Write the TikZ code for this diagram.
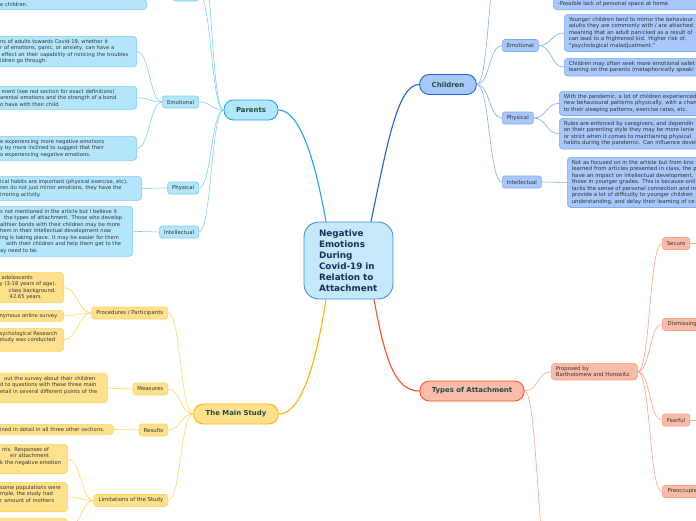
\documentclass[tikz,border=0pt]{standalone}
\usepackage{fontspec}
\setmainfont{DejaVu Sans}

\definecolor{rootfill}{HTML}{C4E9FB}
\definecolor{rootline}{HTML}{3D8FD8}
\definecolor{roottext}{HTML}{1A2D5A}
\definecolor{maintext}{HTML}{1F4A3D}
\definecolor{leaftext}{HTML}{333333}
\definecolor{parline}{HTML}{1AA7EC}
\definecolor{parfill}{HTML}{B3E5FC}
\definecolor{parsubline}{HTML}{7FCDF5}
\definecolor{chiline}{HTML}{1E62D0}
\definecolor{chifill}{HTML}{A8C7FA}
\definecolor{chisubline}{HTML}{7EAAF2}
\definecolor{stuline}{HTML}{FFB300}
\definecolor{stufill}{HTML}{FFE08C}
\definecolor{stusubline}{HTML}{FFD45C}
\definecolor{typline}{HTML}{F4511E}
\definecolor{typfill}{HTML}{F9BCA8}
\definecolor{typsubline}{HTML}{F8A386}

\tikzset{
  mm_node/.style = {line width=0.6pt, text=leaftext, inner xsep=4.5pt,
    inner ysep=3pt, font=\fontsize{5.4}{6.5}\selectfont},
  mm_sub/.style = {mm_node, rounded corners=2.5pt, minimum height=12pt},
  mm_leaf/.style = {mm_node, rounded corners=3.5pt, align=left, text width=#1},
  mm_leaf/.default = 150pt,
  mm_small/.style = {font=\fontsize{5.2}{6.5}\selectfont},
  mm_main/.style = {rounded corners=9.5pt, line width=0.9pt, text=maintext,
    minimum height=20pt, inner xsep=12pt, font=\bfseries\fontsize{6.9}{8}\selectfont},
  mm_root/.style = {draw=rootline, fill=rootfill, line width=0.9pt,
    rounded corners=15pt, text=roottext, align=left, text width=59pt,
    minimum width=89pt, minimum height=77pt, inner sep=0pt,
    font=\bfseries\fontsize{8.8}{11}\selectfont},
  par_n/.style = {fill=parfill, draw=parsubline},
  chi_n/.style = {fill=chifill, draw=chisubline},
  stu_n/.style = {fill=stufill, draw=stusubline},
  typ_n/.style = {fill=typfill, draw=typsubline},
  to_left/.style = {to path={.. controls +(-#1,0) and +(#1,0) .. (\tikztotarget) \tikztonodes}},
  to_right/.style = {to path={.. controls +(#1,0) and +(-#1,0) .. (\tikztotarget) \tikztonodes}}
}

\begin{document}
\begin{tikzpicture}[x=1pt, y=-1pt]
\useasboundingbox (0,0) rectangle (696,520);
\clip (0,0) rectangle (696,520);

% centre and main topics
\node [mm_root] (root) at (348.5,260.5) {Negative\\Emotions\\During\\Covid-19 in\\Relation to\\Attachment};
\node [mm_main, fill=parfill, draw=parline] (parents) at (251,110) {Parents};
\node [mm_main, fill=chifill, draw=chiline] (children) at (448,84.5) {Children};
\node [mm_main, fill=stufill, draw=stuline] (study) at (236,414) {The Main Study};
\node [mm_main, fill=typfill, draw=typline] (types) at (472,391) {Types of Attachment};

\draw [parline, line width=1.1pt] ([xshift=-22.5pt]root.north) .. controls (315,160) and (300,110) .. (parents.east);
\draw [chiline, line width=1.1pt] ([xshift=22.5pt]root.north) .. controls (388,140) and (398,84.5) .. (children.west);
\draw [stuline, line width=1.1pt] ([xshift=-22.5pt]root.south) .. controls (315,370) and (300,414) .. (study.east);
\draw [typline, line width=1.1pt] ([xshift=25.5pt]root.south) .. controls (385,360) and (395,391) .. (types.west);

% Parents
\node [mm_sub, par_n, anchor=east, minimum width=26pt] (p_top) at (199,-5) {};
\coordinate (p_far) at (199,-60);
\node [mm_sub, par_n, anchor=east] (p_emo) at (199,102) {Emotional};
\node [mm_sub, par_n, anchor=east] (p_phy) at (199,188) {Physical};
\node [mm_sub, par_n, anchor=east] (p_int) at (199,232) {Intellectual};

\node [mm_leaf=142pt, mm_small, par_n, anchor=south east] (pt_1) at (147,10) {e children.};
\node [mm_leaf=132pt, mm_small, par_n, anchor=north east] (pe_1) at (137,36)
  {ns of adults towards Covid-19, whether it\\r of emotions, panic, or anxiety, can have a\\\hspace*{1.5pt}effect on their capability of noticing the troubles\\ildren go through.};
\node [mm_leaf=132pt, mm_small, par_n, anchor=north east] (pe_2) at (137,86)
  {\hspace*{1.5pt}ment (see red section for exact definitions)\\arental emotions and the strength of a bond\\o have with their child};
\node [mm_leaf=132pt, mm_small, par_n, anchor=north east] (pe_3) at (137,136)
  {e experiencing more negative emotions\\y by more inclined to suggest that their\\o experiencing negative emotions.};
\node [mm_leaf=137pt, mm_small, par_n, anchor=north east] (pp_1) at (142,176)
  {ical habits are important (physical exercise, etc),\\ren do not just mirror emotions, they have the\\irroring activity.};
\node [mm_leaf=128pt, mm_small, par_n, anchor=north east] (pi_1) at (133,206)
  {s not mentioned in the article but I believe it\\\hspace*{4pt}the types of attachment. Those who develop\\althier bonds with their children may be more\\hem in their intellectual development now\\ing is taking place. It may be easier for them\\\hspace*{6pt}with their children and help them get to the\\ay need to be.};

\draw [parsubline, line width=0.6pt] (parents.west) to[to_left=12.5] (p_top.east);
\draw [parsubline, line width=0.6pt] (parents.west) to[to_left=12.5] (p_far);
\draw [parsubline, line width=0.6pt] (parents.west) to[to_left=12.5] (p_emo.east);
\draw [parsubline, line width=0.6pt] (parents.west) to[to_left=12.5] (p_phy.east);
\draw [parsubline, line width=0.6pt] (parents.west) to[to_left=12.5] (p_int.east);
\draw [parsubline, line width=0.6pt] (p_emo.west) to[to_left=12.5] (pe_1.east);
\draw [parsubline, line width=0.6pt] (p_emo.west) to[to_left=12.5] (pe_2.east);
\draw [parsubline, line width=0.6pt] (p_emo.west) to[to_left=12.5] (pe_3.east);
\draw [parsubline, line width=0.6pt] (p_phy.west) to[to_left=12.5] (pp_1.east);
\draw [parsubline, line width=0.6pt] (p_int.west) to[to_left=12.5] (pi_1.east);

% Children
\coordinate (c_far) at (502,-60);
\node [mm_sub, chi_n, anchor=west] (c_emo) at (502,45.5) {Emotional};
\node [mm_sub, chi_n, anchor=west] (c_phy) at (502,118) {Physical};
\node [mm_sub, chi_n, anchor=west] (c_int) at (502,182) {Intellectual};

\node [mm_leaf, chi_n, anchor=south west] (ct_1) at (553,10) {-Possible lack of personal space at home};
\node [mm_leaf, chi_n, anchor=north west] (ce_1) at (564,14)
  {Younger children tend to mirror the behaviour\\adults they are commonly with / are attached\\meaning that an adult panicked as a result of\\can lead to a frightened kid. Higher risk of,\\"psychological maladjustment."};
\node [mm_leaf, chi_n, anchor=north west] (ce_2) at (564,58)
  {Children may often seek more emotional safet\\leaning on the parents (metaphorically speaki};
\node [mm_leaf, chi_n, anchor=north west] (cp_1) at (559,91)
  {With the pandemic, a lot of children experienced\\new behavioural patterns physically, with a chan\\to their sleeping patterns, exercise rates, etc.};
\node [mm_leaf, chi_n, anchor=north west] (cp_2) at (559,118)
  {Rules are enforced by caregivers, and dependin\\on their parenting style they may be more lenie\\or strict when it comes to maintaining physical\\habits during the pandemic. Can influence devel};
\node [mm_leaf, chi_n, anchor=north west] (ci_1) at (567,157)
  {Not as focused on in the article but from kno\\learned from articles presented in class, the p\\have an impact on intellectual development,\\those in younger grades. This is because onli\\lacks the sense of personal connection and in\\provide a lot of difficulty to younger children\\understanding, and delay their learning of ce};

\draw [chisubline, line width=0.6pt] (children.east) to[to_right=13] (c_far);
\draw [chisubline, line width=0.6pt] (children.east) to[to_right=13] (c_emo.west);
\draw [chisubline, line width=0.6pt] (children.east) to[to_right=13] (c_phy.west);
\draw [chisubline, line width=0.6pt] (children.east) to[to_right=13] (c_int.west);
\draw [chisubline, line width=0.6pt] (c_emo.east) to[to_right=13] (ce_1.west);
\draw [chisubline, line width=0.6pt] (c_emo.east) to[to_right=13] (ce_2.west);
\draw [chisubline, line width=0.6pt] (c_phy.east) to[to_right=13] (cp_1.west);
\draw [chisubline, line width=0.6pt] (c_phy.east) to[to_right=13] (cp_2.west);
\draw [chisubline, line width=0.6pt] (c_int.east) to[to_right=12.5] (ci_1.west);

% The Main Study
\node [mm_sub, stu_n, anchor=east] (s_pro) at (168,313) {Procedures / Participants};
\node [mm_sub, stu_n, anchor=east] (s_mea) at (168,389) {Measures};
\node [mm_sub, stu_n, anchor=east] (s_res) at (168,430) {Results};
\node [mm_sub, stu_n, anchor=east] (s_lim) at (168,500.5) {Limitations of the Study};

\node [mm_leaf=59.5pt, mm_small, stu_n, anchor=north east] (sp_1) at (64,272)
  {\hspace*{2pt}adolescents\\y (3-18 years of age).\\\hspace*{9pt}class background.\\\hspace*{10pt}42.65 years.};
\node [mm_leaf=59.5pt, mm_small, stu_n, anchor=north east] (sp_2) at (64,310) {nymous online survey.};
\node [mm_leaf=59.5pt, mm_small, stu_n, anchor=north east] (sp_3) at (64,328)
  {sychological Research\\study was conducted\\~};
\node [mm_leaf=103pt, mm_small, stu_n, anchor=north east] (sm_1) at (108,373)
  {\hspace*{4pt}out the survey about their children\\d to questions with these three main\\etail in several different points of the\\~};
\node [mm_leaf=109pt, mm_small, stu_n, anchor=north east] (sr_1) at (114,424)
  {ined in detail in all three other sections.};
\node [mm_leaf=63pt, mm_small, stu_n, anchor=north east] (sl_1) at (68,444)
  {\hspace*{2pt}nts. Responses of\\\hspace*{10pt}eir attachment\\k the negative emotion\\~};
\node [mm_leaf=63pt, mm_small, stu_n, anchor=north east] (sl_2) at (68,482)
  {some populations were\\mple, the study had\\r amount of mothers\\~};
\node [mm_leaf=63pt, mm_small, stu_n, anchor=north east, minimum height=20pt] (sl_3) at (68,518) {};

\draw [stusubline, line width=0.6pt] (study.west) to[to_left=13] (s_pro.east);
\draw [stusubline, line width=0.6pt] (study.west) to[to_left=13] (s_mea.east);
\draw [stusubline, line width=0.6pt] (study.west) to[to_left=13] (s_res.east);
\draw [stusubline, line width=0.6pt] (study.west) to[to_left=13] (s_lim.east);
\draw [stusubline, line width=0.6pt] (s_pro.west) to[to_left=13] (sp_1.east);
\draw [stusubline, line width=0.6pt] (s_pro.west) to[to_left=13] (sp_2.east);
\draw [stusubline, line width=0.6pt] (s_pro.west) to[to_left=13] (sp_3.east);
\draw [stusubline, line width=0.6pt] (s_mea.west) to[to_left=12.5] (sm_1.east);
\draw [stusubline, line width=0.6pt] (s_res.west) to[to_left=12.5] (sr_1.east);
\draw [stusubline, line width=0.6pt] (s_lim.west) to[to_left=12] (sl_1.east);
\draw [stusubline, line width=0.6pt] (s_lim.west) to[to_left=12] (sl_2.east);
\draw [stusubline, line width=0.6pt] (s_lim.west) to[to_left=12] (sl_3.east);

% Types of Attachment
\node [mm_leaf=77pt, typ_n, anchor=north west] (t_pro) at (551,363) {Proposed by\\Bartholomew and Horowitz.};
\coordinate (t_far) at (551,580);
\node [mm_sub, typ_n, anchor=west] (t_sec) at (662,243.5) {Secure};
\node [mm_sub, typ_n, anchor=west, minimum width=40pt] (t_dis) at (662,324.5) {Dismissing};
\node [mm_sub, typ_n, anchor=west] (t_fea) at (662,420) {Fearful};
\node [mm_sub, typ_n, anchor=west, minimum width=40pt] (t_pre) at (662,491.5) {Preoccupie};
\coordinate (ts_far) at (700,243.5);
\coordinate (tf_far) at (700,420);

\draw [typsubline, line width=0.6pt] (types.east) to[to_right=13.5] (t_pro.west);
\draw [typsubline, line width=0.6pt] (types.east) to[to_right=13] (t_far);
\draw [typsubline, line width=0.6pt] (t_pro.east) to[to_right=13] (t_sec.west);
\draw [typsubline, line width=0.6pt] (t_pro.east) to[to_right=13] (t_dis.west);
\draw [typsubline, line width=0.6pt] (t_pro.east) to[to_right=13] (t_fea.west);
\draw [typsubline, line width=0.6pt] (t_pro.east) to[to_right=13] (t_pre.west);
\draw [typsubline, line width=0.6pt] (t_sec.east) -- (ts_far);
\draw [typsubline, line width=0.6pt] (t_fea.east) -- (tf_far);
\end{tikzpicture}
\end{document}
